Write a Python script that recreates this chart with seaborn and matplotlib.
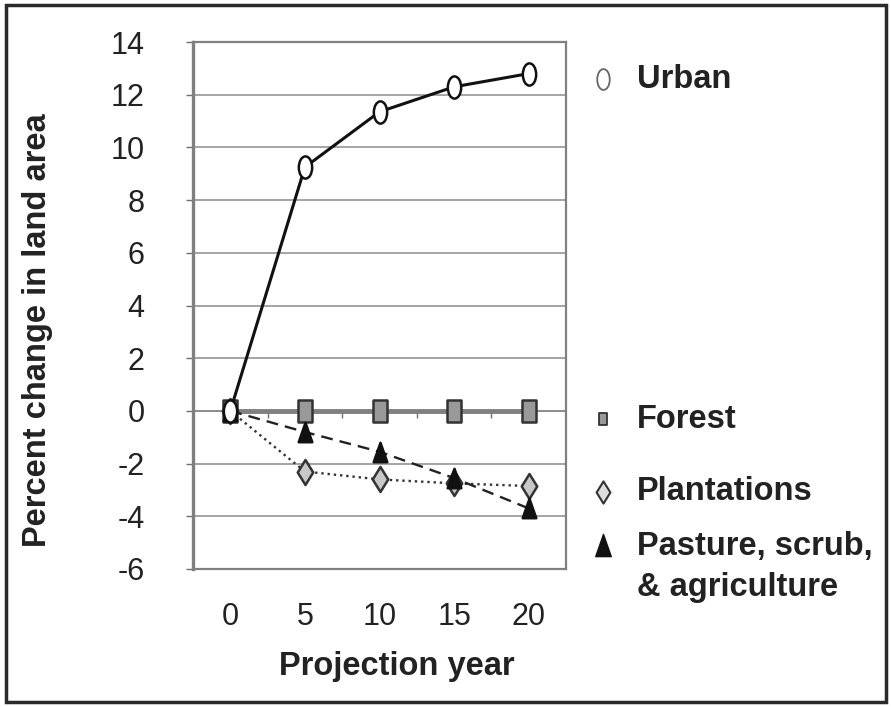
import numpy as np
import pandas as pd
import matplotlib.pyplot as plt
import seaborn as sns
from matplotlib.path import Path
from matplotlib.transforms import Affine2D
from matplotlib.lines import Line2D
from matplotlib.patches import Rectangle

years = ["0", "5", "10", "15", "20"]
urban = [0, 9.25, 11.35, 12.3, 12.8]
forest = [0, 0, 0, 0, 0]
plantations = [0, -2.3, -2.6, -2.75, -2.85]
pasture = [0, -0.8, -1.55, -2.55, -3.7]

yticks = list(range(-6, 15, 2))

sns.set_style("white")
plt.rcParams["font.family"] = ["Liberation Sans", "DejaVu Sans"]
plt.rcParams["axes.unicode_minus"] = False

# tall narrow markers like the Excel original
ellipse = Path.unit_circle().transformed(Affine2D().scale(0.6, 1.0))
rect = Path([(-0.65, -1), (0.65, -1), (0.65, 1), (-0.65, 1), (-0.65, -1)],
            [Path.MOVETO, Path.LINETO, Path.LINETO, Path.LINETO, Path.CLOSEPOLY])
diamond = Path([(0, -1), (0.62, 0), (0, 1), (-0.62, 0), (0, -1)],
               [Path.MOVETO, Path.LINETO, Path.LINETO, Path.LINETO, Path.CLOSEPOLY])
triangle = Path([(-0.7, -1), (0.7, -1), (0, 1), (-0.7, -1)],
                [Path.MOVETO, Path.LINETO, Path.LINETO, Path.CLOSEPOLY])

fig = plt.figure(figsize=(8.91, 7.07), dpi=100)
ax = fig.add_axes([193 / 891, 1 - 569 / 707, 373 / 891, 527 / 707])

ax.set_ylim(-6, 14)
ax.set_xlim(-0.5, 4.5)
ax.set_yticks(yticks)
ax.yaxis.grid(True, color="#8c8c8c", linewidth=1.1)
ax.set_axisbelow(True)

# zero axis with ticks between categories
sec = ax.secondary_xaxis(0.3)
sec.set_xticks([0.5, 1.5, 2.5, 3.5])
sec.set_xticklabels([])
sec.tick_params(direction="out", length=5, width=1, color="#707070")
sec.spines["bottom"].set_color("#808080")
sec.spines["bottom"].set_linewidth(1.2)

series = [
    (forest, rect, "#999999", "#333333", "#808080", "-", 3.5, 16),
    (plantations, diamond, "#c8c8c8", "#333333", "#333333", ":", 1.7, 18),
    (pasture, triangle, "#111111", "#111111", "#222222", (0, (5, 3)), 1.7, 14),
    (urban, ellipse, "white", "#111111", "#111111", "-", 2.2, 16),
]
for vals, mk, face, edge, lc, ls, lw, ms in series:
    df = pd.DataFrame({"year": years, "value": vals})
    sns.lineplot(data=df, x="year", y="value", ax=ax, color=lc, linestyle=ls,
                 linewidth=lw, marker=mk, markersize=ms, markerfacecolor=face,
                 markeredgecolor=edge, markeredgewidth=1.8, zorder=3)

for s in ax.spines.values():
    s.set_color("#808080")
    s.set_linewidth(1.6)
ax.spines["left"].set_linewidth(2.4)

ax.tick_params(axis="y", direction="out", length=5, width=1, color="#707070",
               pad=30, labelsize=22, labelcolor="#222222", left=True)
ax.tick_params(axis="x", length=0, pad=24, labelsize=22, labelcolor="#222222")
ax.set_xlabel("")
ax.set_ylabel("")

fig.text(397 / 891, 1 - 667 / 707, "Projection year", ha="center", va="center",
         fontsize=23.5, fontweight="bold", color="#222222")
fig.text(38 / 891, 1 - 330 / 707, "Percent change in land area", ha="center",
         va="center", rotation=90, fontsize=23.5, fontweight="bold", color="#222222")

# legend entries on the right
legend_items = [
    (ellipse, "white", "#666666", 15, 1.3, "Urban", 79),
    (rect, "#999999", "#333333", 8, 1.3, "Forest", 419),
    (diamond, "#dddddd", "#333333", 16, 1.5, "Plantations", 492),
    (triangle, "#111111", "#111111", 16, 1.0, "Pasture, scrub,\n& agriculture", 545),
]
for mk, face, edge, ms, mew, label, ypix in legend_items:
    fig.add_artist(Line2D([603 / 891], [1 - ypix / 707], transform=fig.transFigure,
                          marker=mk, markersize=ms, markerfacecolor=face,
                          markeredgecolor=edge, markeredgewidth=mew, linestyle="none"))
    yy = ypix if "\n" not in label else ypix + 22
    fig.text(637 / 891, 1 - yy / 707, label, ha="left", va="center", fontsize=23.5,
             fontweight="bold", color="#222222", linespacing=1.42)

fig.add_artist(Rectangle((6 / 891, 5 / 707), 880 / 891, 697 / 707,
                         transform=fig.transFigure, fill=False,
                         edgecolor="#2a2a2a", linewidth=2.5))

fig.savefig("out.png", dpi=100)
